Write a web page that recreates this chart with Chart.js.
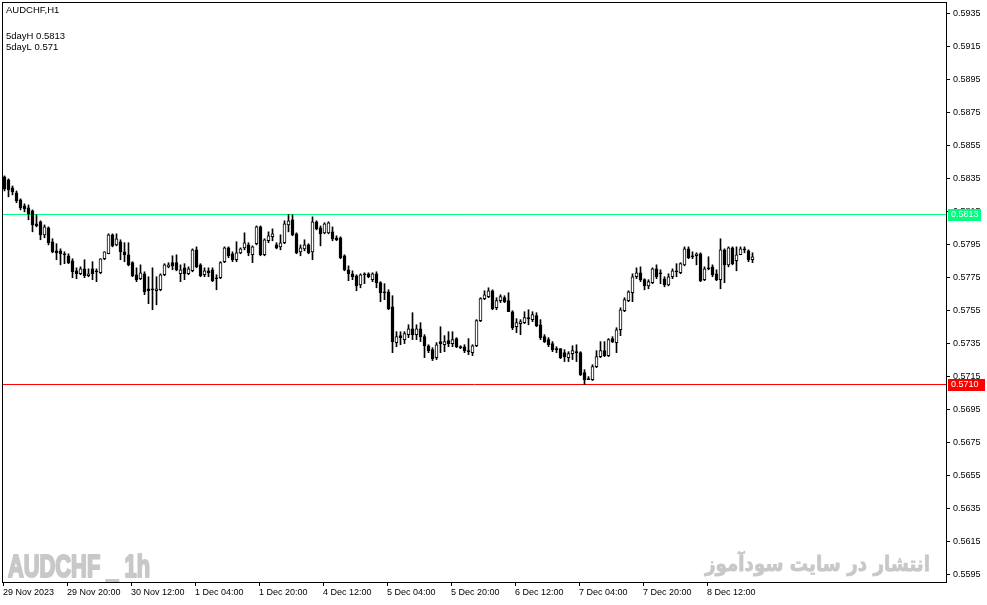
<!DOCTYPE html>
<html>
<head>
<meta charset="utf-8">
<script src="https://cdn.jsdelivr.net/npm/chart.js@4.4.0/dist/chart.umd.min.js"></script>
<style>
  html, body { margin: 0; padding: 0; background: #fff; }
  canvas { display: block; }
</style>
</head>
<body>
<canvas id="chart" width="987" height="605"></canvas>
<script>
// AUDCHF H1 candles (one per hour, 188 bars)
const opens = [
  0.58358,0.58340,0.58291,0.58261,0.58219,0.58182,0.58170,0.58152,0.58074,0.58086,
  0.58007,0.58049,0.57965,0.57910,0.57910,0.57892,0.57880,0.57850,0.57789,0.57771,
  0.57801,0.57759,0.57801,0.57789,0.57777,0.57862,0.57892,0.58007,0.57946,0.57965,
  0.57904,0.57886,0.57838,0.57765,0.57741,0.57771,0.57680,0.57680,0.57668,0.57674,
  0.57765,0.57813,0.57838,0.57838,0.57771,0.57807,0.57771,0.57789,0.57916,0.57825,
  0.57765,0.57789,0.57795,0.57747,0.57747,0.57844,0.57928,0.57892,0.57856,0.57898,
  0.57928,0.57946,0.57886,0.57953,0.58055,0.57886,0.57971,0.57995,0.57946,0.57934,
  0.57959,0.58067,0.58098,0.58013,0.57904,0.57922,0.57946,0.57904,0.58086,0.58049,
  0.58019,0.58019,0.58025,0.57989,0.57989,0.57880,0.57795,0.57771,0.57759,0.57704,
  0.57771,0.57771,0.57735,0.57771,0.57717,0.57662,0.57662,0.57571,0.57354,0.57396,
  0.57372,0.57402,0.57438,0.57402,0.57438,0.57390,0.57335,0.57311,0.57263,0.57360,
  0.57341,0.57366,0.57348,0.57378,0.57329,0.57329,0.57305,0.57293,0.57335,0.57487,
  0.57620,0.57632,0.57668,0.57565,0.57608,0.57626,0.57608,0.57541,0.57450,0.57469,
  0.57475,0.57505,0.57493,0.57517,0.57462,0.57390,0.57372,0.57348,0.57317,0.57317,
  0.57293,0.57263,0.57287,0.57299,0.57293,0.57172,0.57136,0.57130,0.57208,0.57269,
  0.57305,0.57275,0.57378,0.57354,0.57432,0.57547,0.57608,0.57656,0.57753,0.57777,
  0.57735,0.57698,0.57717,0.57801,0.57777,0.57741,0.57704,0.57753,0.57789,0.57777,
  0.57825,0.57922,0.57880,0.57880,0.57892,0.57735,0.57807,0.57813,0.57771,0.57735,
  0.57916,0.57825,0.57928,0.57850,0.57886,0.57922,0.57910,0.57856
];
const highs = [
  0.58364,0.58346,0.58303,0.58273,0.58225,0.58195,0.58188,0.58158,0.58128,0.58092,
  0.58067,0.58055,0.57983,0.57953,0.57922,0.57904,0.57892,0.57862,0.57807,0.57813,
  0.57856,0.57801,0.57844,0.57801,0.57862,0.57904,0.58013,0.58013,0.58013,0.57977,
  0.57959,0.57959,0.57844,0.57807,0.57825,0.57783,0.57753,0.57807,0.57753,0.57771,
  0.57832,0.57838,0.57880,0.57886,0.57825,0.57832,0.57813,0.57922,0.57934,0.57832,
  0.57807,0.57807,0.57807,0.57765,0.57844,0.57934,0.57934,0.57904,0.57965,0.57928,
  0.58019,0.57959,0.57940,0.58061,0.58061,0.57983,0.58025,0.58043,0.57959,0.58007,
  0.58092,0.58130,0.58128,0.58019,0.57946,0.57977,0.57953,0.58116,0.58092,0.58061,
  0.58080,0.58086,0.58055,0.58001,0.57995,0.57886,0.57819,0.57789,0.57765,0.57771,
  0.57777,0.57777,0.57777,0.57783,0.57723,0.57711,0.57674,0.57638,0.57420,0.57420,
  0.57420,0.57462,0.57535,0.57462,0.57475,0.57402,0.57341,0.57323,0.57354,0.57450,
  0.57396,0.57420,0.57420,0.57384,0.57335,0.57341,0.57378,0.57341,0.57493,0.57626,
  0.57668,0.57686,0.57674,0.57626,0.57644,0.57638,0.57656,0.57547,0.57499,0.57493,
  0.57541,0.57553,0.57541,0.57535,0.57493,0.57402,0.57384,0.57360,0.57329,0.57317,
  0.57311,0.57299,0.57335,0.57341,0.57299,0.57190,0.57148,0.57220,0.57305,0.57360,
  0.57360,0.57378,0.57390,0.57444,0.57565,0.57626,0.57668,0.57771,0.57807,0.57813,
  0.57741,0.57735,0.57807,0.57825,0.57795,0.57753,0.57771,0.57801,0.57832,0.57838,
  0.57934,0.57934,0.57904,0.57898,0.57898,0.57813,0.57874,0.57825,0.57795,0.57983,
  0.57922,0.57934,0.57934,0.57934,0.57934,0.57934,0.57916,0.57898
];
const lows = [
  0.58273,0.58237,0.58249,0.58201,0.58158,0.58146,0.58098,0.58025,0.58055,0.57977,
  0.57989,0.57946,0.57898,0.57856,0.57825,0.57832,0.57832,0.57747,0.57741,0.57765,
  0.57747,0.57753,0.57735,0.57723,0.57771,0.57856,0.57892,0.57934,0.57940,0.57856,
  0.57844,0.57819,0.57753,0.57723,0.57735,0.57644,0.57590,0.57553,0.57583,0.57668,
  0.57759,0.57807,0.57795,0.57789,0.57723,0.57735,0.57765,0.57783,0.57807,0.57753,
  0.57753,0.57753,0.57723,0.57674,0.57741,0.57838,0.57868,0.57844,0.57844,0.57892,
  0.57916,0.57880,0.57838,0.57946,0.57880,0.57880,0.57959,0.57971,0.57922,0.57916,
  0.57953,0.58025,0.58001,0.57892,0.57880,0.57910,0.57892,0.57856,0.58037,0.57940,
  0.58013,0.58013,0.57971,0.57971,0.57862,0.57789,0.57729,0.57735,0.57668,0.57686,
  0.57711,0.57747,0.57723,0.57686,0.57602,0.57614,0.57553,0.57293,0.57329,0.57341,
  0.57348,0.57384,0.57372,0.57372,0.57360,0.57263,0.57293,0.57245,0.57251,0.57293,
  0.57299,0.57329,0.57329,0.57323,0.57317,0.57293,0.57281,0.57275,0.57329,0.57481,
  0.57614,0.57626,0.57553,0.57553,0.57596,0.57596,0.57541,0.57432,0.57414,0.57402,
  0.57469,0.57462,0.57481,0.57450,0.57372,0.57354,0.57329,0.57299,0.57293,0.57257,
  0.57239,0.57239,0.57251,0.57239,0.57154,0.57100,0.57130,0.57124,0.57202,0.57263,
  0.57269,0.57269,0.57354,0.57293,0.57396,0.57541,0.57602,0.57602,0.57741,0.57723,
  0.57674,0.57680,0.57711,0.57741,0.57711,0.57692,0.57698,0.57741,0.57753,0.57771,
  0.57819,0.57862,0.57862,0.57825,0.57723,0.57729,0.57795,0.57753,0.57729,0.57680,
  0.57717,0.57813,0.57825,0.57789,0.57886,0.57898,0.57844,0.57838
];
const closes = [
  0.58285,0.58279,0.58267,0.58213,0.58170,0.58164,0.58134,0.58067,0.58061,0.58007,
  0.58055,0.57959,0.57904,0.57898,0.57892,0.57886,0.57838,0.57783,0.57771,0.57801,
  0.57759,0.57771,0.57771,0.57783,0.57862,0.57904,0.58007,0.57940,0.57983,0.57904,
  0.57886,0.57825,0.57759,0.57735,0.57777,0.57662,0.57668,0.57674,0.57680,0.57765,
  0.57825,0.57825,0.57819,0.57795,0.57795,0.57771,0.57801,0.57916,0.57813,0.57759,
  0.57789,0.57777,0.57729,0.57741,0.57838,0.57928,0.57880,0.57856,0.57898,0.57922,
  0.57959,0.57898,0.57934,0.58055,0.57886,0.57977,0.58001,0.58013,0.57928,0.57959,
  0.58074,0.58092,0.58007,0.57898,0.57928,0.57946,0.57898,0.58086,0.58043,0.58013,
  0.58074,0.58080,0.57983,0.57977,0.57868,0.57795,0.57771,0.57753,0.57698,0.57765,
  0.57765,0.57753,0.57771,0.57717,0.57656,0.57656,0.57559,0.57360,0.57390,0.57384,
  0.57408,0.57438,0.57402,0.57438,0.57390,0.57335,0.57305,0.57257,0.57341,0.57348,
  0.57360,0.57348,0.57372,0.57329,0.57323,0.57305,0.57299,0.57335,0.57487,0.57620,
  0.57644,0.57668,0.57559,0.57608,0.57632,0.57602,0.57541,0.57444,0.57475,0.57481,
  0.57505,0.57499,0.57523,0.57456,0.57384,0.57360,0.57341,0.57311,0.57311,0.57263,
  0.57269,0.57287,0.57305,0.57293,0.57160,0.57130,0.57130,0.57208,0.57269,0.57305,
  0.57275,0.57372,0.57360,0.57432,0.57553,0.57614,0.57662,0.57753,0.57777,0.57735,
  0.57698,0.57723,0.57801,0.57753,0.57771,0.57704,0.57753,0.57789,0.57783,0.57832,
  0.57922,0.57868,0.57874,0.57892,0.57729,0.57801,0.57801,0.57765,0.57735,0.57916,
  0.57825,0.57928,0.57832,0.57886,0.57922,0.57916,0.57856,0.57874
];

// time axis: a label every 16 bars
const tickBars = [0, 16, 32, 48, 64, 80, 96, 112, 128, 144, 160, 176];
const tickLabels = [
  '29 Nov 2023', '29 Nov 20:00', '30 Nov 12:00', '1 Dec 04:00',
  '1 Dec 20:00', '4 Dec 12:00', '5 Dec 04:00', '5 Dec 20:00',
  '6 Dec 12:00', '7 Dec 04:00', '7 Dec 20:00', '8 Dec 12:00'
];
const priceTicks = [
  0.5595, 0.5615, 0.5635, 0.5655, 0.5675, 0.5695, 0.5715, 0.5735, 0.5755,
  0.5775, 0.5795, 0.5815, 0.5835, 0.5855, 0.5875, 0.5895, 0.5915, 0.5935
];
const dayHigh = 0.5813;
const dayLow = 0.5710;

const FONT = '"Liberation Sans", Arial, sans-serif';
const GREEN = '#00ff7f';
const RED = '#ff0000';
const X_MIN = -0.375, X_MAX = 235.375;

const idx = opens.map((o, i) => i);
const wicks = idx.map(i => ({ x: i, y: [lows[i], highs[i]] }));
const bodies = idx.map(i => ({ x: i, y: [opens[i], closes[i]] }));
const upBar = i => closes[i] > opens[i];

function fitText(ctx, text, x, y, maxW, align, weight) {
  const w = ctx.measureText(text).width;
  ctx.save();
  ctx.translate(x, y);
  ctx.scale(Math.min(1.6, maxW / w), 1);
  ctx.textAlign = align;
  if (weight) {
    ctx.lineWidth = weight;
    ctx.lineJoin = 'round';
    ctx.strokeStyle = ctx.fillStyle;
    ctx.strokeText(text, 0, 0);
  }
  ctx.fillText(text, 0, 0);
  ctx.restore();
}

// no extra room for half tick labels: the plot fills the frame
function noPad(s) {
  s.paddingTop = 0; s.paddingBottom = 0;
  s.paddingLeft = 0; s.paddingRight = 0;
}

const overlay = {
  id: 'overlay',
  beforeDatasetsDraw(chart) {
    const ctx = chart.ctx;
    ctx.save();
    ctx.fillStyle = '#c8c8c8';
    ctx.textBaseline = 'alphabetic';
    ctx.font = 'bold 31px "Liberation Sans", Arial, sans-serif';
    fitText(ctx, 'AUDCHF _ 1h', 8, 577, 142, 'left', 2.2);
    ctx.font = 'bold 21px "DejaVu Sans", sans-serif';
    ctx.direction = 'rtl';
    fitText(ctx, 'انتشار در سایت سودآموز', 930, 571, 225, 'right', 0.8);
    ctx.restore();
  },
  afterDraw(chart) {
    const { ctx, chartArea: a, scales: { y } } = chart;
    ctx.save();
    ctx.strokeStyle = '#000';
    ctx.lineWidth = 1;
    ctx.strokeRect(a.left - 0.5, a.top - 0.5, a.right - a.left + 1, a.bottom - a.top + 1);

    ctx.font = '9px ' + FONT;
    ctx.textBaseline = 'middle';
    ctx.textAlign = 'left';
    const gy = Math.floor(y.getPixelForValue(dayHigh));
    ctx.fillStyle = GREEN;
    ctx.fillRect(a.right + 2, gy - 5, 33, 12);
    ctx.fillStyle = '#fff';
    ctx.fillText(dayHigh.toFixed(4), a.right + 5, gy + 1);
    const ry = Math.floor(y.getPixelForValue(dayLow));
    ctx.fillStyle = RED;
    ctx.fillRect(a.right + 2, ry - 5, 37, 12);
    ctx.fillStyle = '#fff';
    ctx.fillText(dayLow.toFixed(4), a.right + 5, ry + 1);

    ctx.fillStyle = '#000';
    ctx.font = '9.5px ' + FONT;
    ctx.fillText('AUDCHF,H1', 6, 10);
    ctx.fillText('5dayH ' + dayHigh, 6, 36);
    ctx.fillText('5dayL ' + dayLow, 6, 47);
    ctx.restore();
  }
};

new Chart(document.getElementById('chart'), {
  type: 'bar',
  data: {
    datasets: [
      {
        type: 'line', order: 3,
        data: [{ x: X_MIN, y: dayHigh }, { x: X_MAX, y: dayHigh }],
        borderColor: GREEN, borderWidth: 1, pointRadius: 0
      },
      {
        type: 'line', order: 3,
        data: [{ x: X_MIN, y: dayLow }, { x: X_MAX, y: dayLow }],
        borderColor: RED, borderWidth: 1, pointRadius: 0
      },
      {
        order: 2, data: wicks, grouped: false, barThickness: 1,
        backgroundColor: '#000', borderWidth: 0
      },
      {
        order: 1, data: bodies, grouped: false, barThickness: 3, minBarLength: 1,
        backgroundColor: ctx => upBar(ctx.dataIndex) ? '#fff' : '#000',
        borderColor: '#000', borderWidth: 1, borderSkipped: false
      }
    ]
  },
  options: {
    responsive: false,
    devicePixelRatio: 1,
    animation: false,
    layout: { padding: { left: 3, top: 3, right: 0, bottom: 0 } },
    plugins: { legend: { display: false }, tooltip: { enabled: false } },
    scales: {
      x: {
        type: 'linear', min: X_MIN, max: X_MAX, offset: false,
        grid: { drawOnChartArea: false, tickLength: 4, color: '#000', offset: false },
        border: { display: false },
        afterBuildTicks: s => { s.ticks = tickBars.map(b => ({ value: b - 0.375 })); },
        afterFit: s => { s.height = 23; noPad(s); },
        ticks: {
          align: 'start', autoSkip: false, maxRotation: 0, padding: 1,
          color: '#000', font: { family: FONT, size: 9 },
          callback: (v, i) => tickLabels[i]
        }
      },
      y: {
        type: 'linear', position: 'right', min: 0.559034, max: 0.594115,
        grid: { drawOnChartArea: false, tickLength: 4, color: '#000' },
        border: { display: false },
        afterBuildTicks: s => { s.ticks = priceTicks.map(v => ({ value: v })); },
        afterFit: s => { s.width = 41; noPad(s); },
        ticks: {
          autoSkip: false, padding: 3, color: '#000',
          font: { family: FONT, size: 9 },
          callback: v => v.toFixed(4)
        }
      }
    }
  },
  plugins: [overlay]
});
</script>
</body>
</html>
